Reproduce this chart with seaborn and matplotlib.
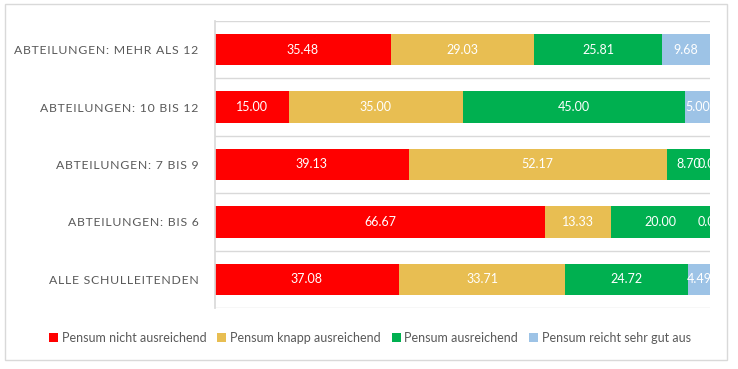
import matplotlib
matplotlib.use("Agg")
import matplotlib.pyplot as plt
from matplotlib.patches import Patch, Rectangle
import numpy as np
import pandas as pd
import seaborn as sns

groups = ["ABTEILUNGEN: MEHR ALS 12", "ABTEILUNGEN: 10 BIS 12", "ABTEILUNGEN: 7 BIS 9",
          "ABTEILUNGEN: BIS 6", "ALLE SCHULLEITENDEN"]
series = ["Pensum nicht ausreichend", "Pensum knapp ausreichend",
          "Pensum ausreichend", "Pensum reicht sehr gut aus"]
nicht = [35.48, 15.00, 39.13, 66.67, 37.08]
knapp = [29.03, 35.00, 52.17, 13.33, 33.71]
ausr = [25.81, 45.00, 8.70, 20.00, 24.72]
gut = [9.68, 5.00, 0.00, 0.00, 4.49]
colors = ["#FF0000", "#E8BE52", "#00B050", "#9DC3E6"]

sns.set_theme(style="white")
plt.rcParams["font.family"] = ["Lato", "DejaVu Sans"]

vals = np.array([nicht, knapp, ausr, gut])
cum = vals.cumsum(axis=0)
df = pd.DataFrame([
    {"group": g, "series": s, "cum": cum[i, j]}
    for i, s in enumerate(series) for j, g in enumerate(groups)
])

fig = plt.figure(figsize=(7.38, 3.69), dpi=100)
ax = fig.add_axes([215 / 738, 1 - 308 / 369, 495 / 738, 287 / 369])

# draw cumulative totals from largest to smallest so they stack visually
sns.barplot(data=df, x="cum", y="group", hue="series", order=groups,
            hue_order=series[::-1], palette=dict(zip(series, colors)),
            dodge=False, width=0.55, linewidth=0, saturation=1, ax=ax, legend=False)

ax.set_xlim(0, 100)
ax.set_ylim(len(groups) - 0.5, -0.5)
ax.set_xlabel("")
ax.set_ylabel("")
ax.set_xticks([])
for y in np.arange(-0.5, len(groups), 1.0):
    ax.axhline(y, color="#D9D9D9", lw=1, zorder=0)
for side in ["top", "right", "bottom"]:
    ax.spines[side].set_visible(False)
ax.spines["left"].set_color("#D9D9D9")

# letter-spaced category labels
spaced = ["\u200a".join(list(g)) for g in groups]
ax.set_yticks(range(len(groups)))
ax.set_yticklabels(spaced, fontsize=8.8, color="#595959")
ax.tick_params(axis="y", length=0, pad=12)

# data labels centred in each segment
for i in range(len(series)):
    for j in range(len(groups)):
        start = cum[i, j] - vals[i, j]
        ax.text(start + vals[i, j] / 2, j, f"{vals[i, j]:.2f}", ha="center",
                va="center", color="white", fontsize=9, clip_on=True)

handles = [Patch(facecolor=c, edgecolor="none") for c in colors]
fig.legend(handles, series, loc="center", bbox_to_anchor=(370 / 738, 1 - 338 / 369),
           ncol=4, frameon=False, fontsize=9, handlelength=0.7, handleheight=0.7,
           handletextpad=0.3, columnspacing=0.9, labelcolor="#595959")

fig.patches.append(Rectangle((5 / 738, 1 - 360 / 369), 722 / 738, 356 / 369,
                             transform=fig.transFigure, fill=False,
                             edgecolor="#D9D9D9", lw=1))

fig.savefig("out.png", dpi=100)
